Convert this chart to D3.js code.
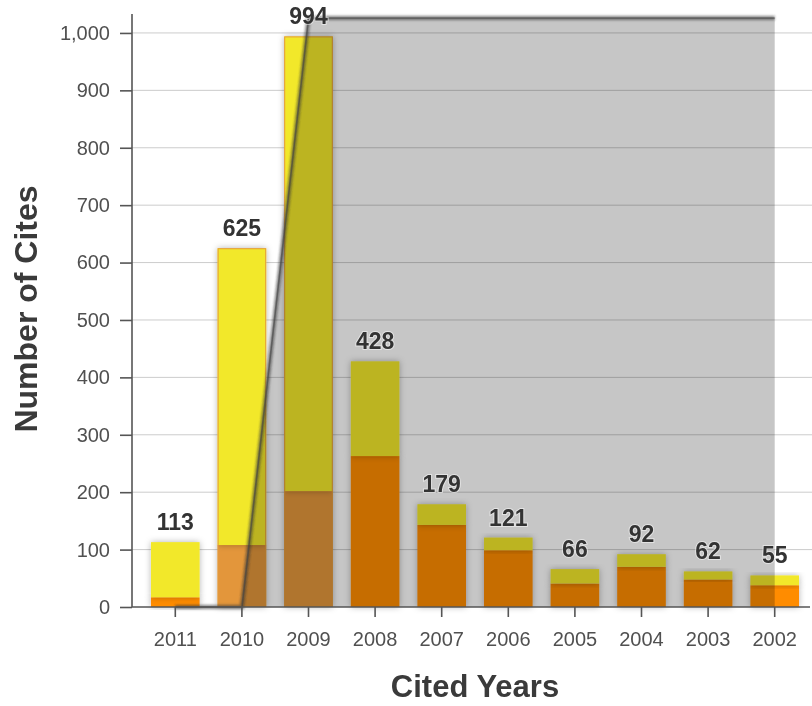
<!DOCTYPE html>
<html>
<head>
<meta charset="utf-8">
<script src="https://cdn.jsdelivr.net/npm/d3@7"></script>
<style>
  html, body { margin: 0; padding: 0; background: #fff; }
  svg { display: block; font-family: "Liberation Sans", Arial, sans-serif; }
</style>
</head>
<body>
<div id="chart"></div>
<script>
// categories
const years = ["2011", "2010", "2009", "2008", "2007", "2006", "2005", "2004", "2003", "2002"];
// orange (lower) part of each bar
const lowerCites = [17, 108, 202, 263, 143, 99, 41, 70, 48, 38];
// yellow (upper) part of each bar
const upperCites = [96, 517, 792, 165, 36, 22, 25, 22, 14, 17];
// gray shaded range line
const rangeLine = [0, 0, 1026, 1026, 1026, 1026, 1026, 1026, 1026, 1026];
// y ticks
const yTicks = [0, 100, 200, 300, 400, 500, 600, 700, 800, 900, 1000];

const width = 812;
const height = 706;

const marginTop = 14;
const marginBottom = 99;
const axisLeft = 132;

const svg = d3.select("#chart")
    .append("svg")
    .attr("width", width)
    .attr("height", height);

const defs = svg.append("defs");
const shadow = defs.append("filter").attr("id", "barShadow")
    .attr("x", "-30%").attr("y", "-30%").attr("width", "160%").attr("height", "160%");
shadow.append("feDropShadow")
    .attr("dx", 0).attr("dy", 0).attr("stdDeviation", 3)
    .attr("flood-color", "#000").attr("flood-opacity", 0.3);

const lineShadow = defs.append("filter").attr("id", "lineShadow")
    .attr("x", "-10%").attr("y", "-10%").attr("width", "120%").attr("height", "120%");
lineShadow.append("feGaussianBlur").attr("stdDeviation", 1.2);

const rows = years.map((yr, i) => ({ year: yr, lower: lowerCites[i], upper: upperCites[i], range: rangeLine[i] }));

// X SCALE
const x = d3.scaleBand()
    .domain(years)
    .range([142, 808])
    .paddingInner(0.27)
    .paddingOuter(0.135);

// Y SCALE
const y = d3.scaleLinear()
    .domain([0, 1033])
    .range([height - marginBottom, marginTop]);

// GRID
svg.append("g")
    .selectAll("line")
    .data(yTicks.filter(d => d > 0))
    .join("line")
    .attr("x1", axisLeft)
    .attr("x2", width)
    .attr("y1", d => y(d))
    .attr("y2", d => y(d))
    .attr("stroke", "#cccccc")
    .attr("stroke-width", 1);

// STACK
const stack = d3.stack().keys(["lower", "upper"]);
const series = stack(rows);
const colors = { lower: "#ff8c00", upper: "#f2e82a" };
const softLower = "#e3963a";

svg.append("g")
    .selectAll("g")
    .data(series)
    .join("g")
    .selectAll("rect")
    .data(s => s.map(d => Object.assign({ key: s.key }, d)))
    .join("rect")
    .attr("x", d => x(d.data.year))
    .attr("y", d => y(d[1]))
    .attr("width", x.bandwidth())
    .attr("height", d => y(d[0]) - y(d[1]))
    .attr("fill", d => (d.key === "lower" && (d.data.year === "2010" || d.data.year === "2009")) ? softLower : colors[d.key])
    .attr("filter", "url(#barShadow)");

// thin orange border on the highlighted bars
svg.append("g")
    .selectAll("rect")
    .data(rows.filter(d => d.year === "2010" || d.year === "2009"))
    .join("rect")
    .attr("x", d => x(d.year) + 0.5)
    .attr("y", d => y(d.lower + d.upper) + 0.5)
    .attr("width", x.bandwidth() - 1)
    .attr("height", d => y(0) - y(d.lower + d.upper) - 1)
    .attr("fill", "none")
    .attr("stroke", "#e39a3c")
    .attr("stroke-width", 1);

// SHADED RANGE
const cx = d => x(d.year) + x.bandwidth() / 2;

svg.append("path")
    .datum(rows)
    .attr("d", d3.area().x(cx).y0(y(0)).y1(d => y(d.range)))
    .attr("fill", "#c6c6c6")
    .style("mix-blend-mode", "multiply");

svg.append("path")
    .datum(rows)
    .attr("d", d3.line().x(cx).y(d => y(d.range)))
    .attr("fill", "none")
    .attr("stroke", "#333")
    .attr("stroke-width", 4.5)
    .attr("stroke-opacity", 0.55)
    .attr("filter", "url(#lineShadow)");

svg.append("path")
    .datum(rows)
    .attr("d", d3.line().x(cx).y(d => y(d.range)))
    .attr("fill", "none")
    .attr("stroke", "#444")
    .attr("stroke-width", 1.5)
    .attr("stroke-opacity", 0.6);

// VALUE LABELS
svg.append("g")
    .selectAll("text")
    .data(rows)
    .join("text")
    .attr("x", cx)
    .attr("y", d => y(d.lower + d.upper) - 12)
    .attr("text-anchor", "middle")
    .attr("font-size", "23px")
    .attr("font-weight", "bold")
    .attr("fill", "#333")
    .attr("stroke", "rgba(255,255,255,0.5)")
    .attr("stroke-width", 2)
    .attr("paint-order", "stroke")
    .text(d => d.lower + d.upper);

// Y AXIS
svg.append("g")
    .attr("transform", `translate(${axisLeft}, 0)`)
    .call(d3.axisLeft(y).tickValues(yTicks).tickSize(12).tickPadding(10).tickFormat(d3.format(",")))
    .call(g => g.select(".domain").attr("stroke", "#555").attr("stroke-width", 1.6).attr("d", `M0,${y(0)}V${y(1033)}`))
    .call(g => g.selectAll(".tick line").attr("stroke", "#555").attr("stroke-width", 1.6))
    .call(g => g.selectAll("text").attr("fill", "#505050").attr("font-size", "20px").attr("font-family", "Liberation Sans, Arial, sans-serif"));

// X AXIS
svg.append("g")
    .attr("transform", `translate(0, ${y(0)})`)
    .call(d3.axisBottom(x).tickSize(10).tickPadding(15).tickSizeOuter(0))
    .call(g => g.select(".domain").attr("stroke", "#555").attr("stroke-width", 1.6).attr("d", `M${axisLeft},0H${width - 2}`))
    .call(g => g.selectAll(".tick line").attr("stroke", "#555").attr("stroke-width", 1.6))
    .call(g => g.selectAll("text").attr("fill", "#505050").attr("font-size", "20px").attr("font-family", "Liberation Sans, Arial, sans-serif"));

// AXIS TITLES
svg.append("text")
    .attr("transform", `translate(37, 309) rotate(-90)`)
    .attr("text-anchor", "middle")
    .attr("font-size", "32px")
    .attr("font-weight", "bold")
    .attr("fill", "#3a3a3a")
    .text("Number of Cites");

svg.append("text")
    .attr("x", 475)
    .attr("y", 697)
    .attr("text-anchor", "middle")
    .attr("font-size", "31px")
    .attr("font-weight", "bold")
    .attr("fill", "#3a3a3a")
    .text("Cited Years");
</script>
</body>
</html>
